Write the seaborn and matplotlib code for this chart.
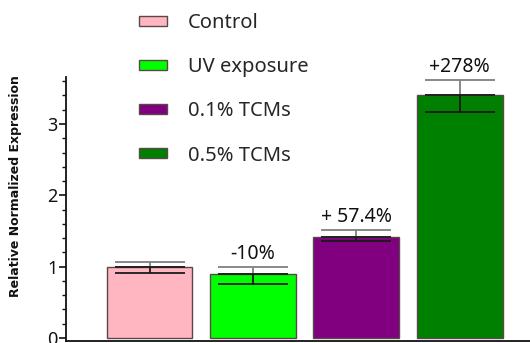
import matplotlib
matplotlib.use("Agg")
import matplotlib.pyplot as plt
from matplotlib.ticker import MultipleLocator
from matplotlib.patches import Patch
import seaborn as sns
import pandas as pd

# Relative normalized expression per treatment group
groups = ["Control", "UV exposure", "0.1% TCMs", "0.5% TCMs"]
expression = [0.99, 0.90, 1.42, 3.40]
err_low = [0.08, 0.14, 0.06, 0.23]
err_high = [0.07, 0.10, 0.10, 0.22]
change_labels = ["", "-10%", "+ 57.4%", "+278%"]
colors = ["#FFB6C1", "#00FF00", "#800080", "#008000"]

sns.set_theme(style="white")
plt.rcParams["font.family"] = ["Noto Sans", "DejaVu Sans"]

df = pd.DataFrame({"group": groups, "expression": expression})

fig = plt.figure(figsize=(5.30, 3.43), dpi=100)
ax = fig.add_axes([0.1236, 0.0067, 0.8764, 0.769])

sns.barplot(data=df, x="group", y="expression", hue="group", palette=colors,
            order=groups, hue_order=groups, errorbar=None, width=0.83,
            saturation=1, edgecolor="#5a4848", linewidth=1.0, legend=False, ax=ax)

x = list(range(len(groups)))
# upper whisker (grey) and lower whisker (dark), as in the instrument export
ax.errorbar(x, expression, yerr=[[0] * 4, err_high], fmt="none",
            ecolor="#808080", elinewidth=1.3, capsize=25, capthick=1.3, zorder=3)
ax.errorbar(x, expression, yerr=[err_low, [0] * 4], fmt="none",
            ecolor="#1a1a1a", elinewidth=1.3, capsize=25, capthick=1.3, zorder=3)

for xi, v, hi, lab in zip(x, expression, err_high, change_labels):
    if lab:
        ax.annotate(lab, xy=(xi, v + hi), xytext=(0, 2), textcoords="offset points",
                    ha="center", va="bottom", fontsize=14, color="#111111",
                    annotation_clip=False)

ax.set_xlim(-0.813, 3.68)
ax.set_ylim(-0.038, 3.66)
ax.yaxis.set_major_locator(MultipleLocator(1))
ax.yaxis.set_minor_locator(MultipleLocator(0.2))
ax.tick_params(axis="y", which="major", direction="out", length=5, width=1.2,
               left=True, labelsize=13, pad=1, colors="#111111")
ax.tick_params(axis="y", which="minor", direction="out", length=3, width=1.0,
               left=True, colors="#111111")
ax.tick_params(axis="x", bottom=False, labelbottom=False)
ax.set_xlabel("")
ax.set_ylabel("Relative Normalized Expression", fontsize=9, fontweight="bold",
              family="DejaVu Sans", color="#111111")
ax.yaxis.set_label_coords(-0.094, 0.587)
for side in ("top", "right"):
    ax.spines[side].set_visible(False)
for side in ("left", "bottom"):
    ax.spines[side].set_color("#111111")
    ax.spines[side].set_linewidth(1.3)

handles = [Patch(facecolor=c, edgecolor="#5a4848", linewidth=1.0) for c in colors]
fig.legend(handles, groups, loc="upper left", bbox_to_anchor=(0.262, 0.962),
           frameon=False, fontsize=14.5, handlelength=1.4, handleheight=0.4,
           handletextpad=1.05, labelspacing=1.2, borderpad=0, borderaxespad=0)

fig.savefig("out.png", dpi=100)
